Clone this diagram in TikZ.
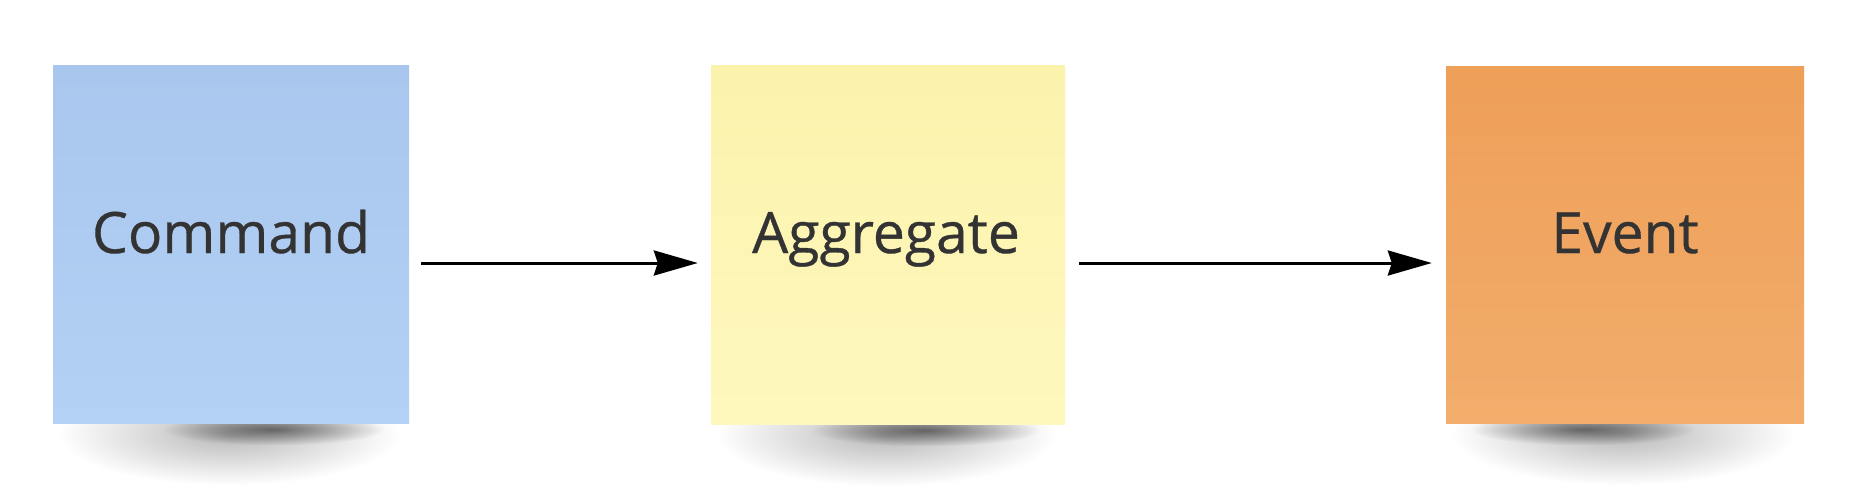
\documentclass[tikz,border=0pt]{standalone}
\usepackage{fontspec}
\setmainfont{Open Sans}
\newfontfamily\lblfont{Open Sans}[FakeBold=0.6]
\usetikzlibrary{arrows.meta,fadings}
\pgfdeclarelayer{background}
\pgfdeclarelayer{canvas}
\pgfsetlayers{canvas,background,main}
\definecolor{blueTop}{HTML}{A9C7EE}
\definecolor{blueBot}{HTML}{B3D1F4}
\definecolor{yelTop}{HTML}{FBF2AC}
\definecolor{yelBot}{HTML}{FEF8BD}
\definecolor{orTop}{HTML}{EE9F58}
\definecolor{orBot}{HTML}{F2AD6C}
\definecolor{txt}{HTML}{333333}
\tikzfading[name=shfade, inner color=transparent!0, outer color=transparent!100]
\tikzset{
  sticky/.style={rectangle, inner sep=0pt, draw=none},
  lbl/.style={anchor=base, inner sep=0pt, text=txt, font=\lblfont\fontsize{57pt}{60pt}\selectfont},
  arr/.style={line width=3pt, -{Stealth[length=44pt,width=25pt,inset=4pt]}}
}
\begin{document}
\begin{tikzpicture}[x=1pt,y=-1pt]
\begin{pgfonlayer}{canvas}
\fill[white] (0,0) rectangle (1854,490);
\end{pgfonlayer}
\useasboundingbox (0,0) rectangle (1854,490);
% sticky notes
\node[sticky, minimum width=356pt, minimum height=358pt, top color=blueTop, bottom color=blueBot] (cmd) at (231,244) {};
\node[sticky, minimum width=354pt, minimum height=359pt, top color=yelTop, bottom color=yelBot] (agg) at (888,244.5) {};
\node[sticky, minimum width=358pt, minimum height=357pt, top color=orTop, bottom color=orBot] (evt) at (1625,244.5) {};
% labels
\node[lbl] (cmdT) at (231,253) {Command};
\node[lbl] (aggT) at (886,253) {Aggregate};
\node[lbl] (evtT) at (1625,253) {Event};
% shadows
\begin{pgfonlayer}{background}
\foreach \n/\a/\b in {cmd/110/25, agg/100/25, evt/25/110}{
  \fill[black, path fading=shfade, opacity=.28]
    ([xshift=6pt,yshift=40pt]\n.south west) rectangle ([xshift=-10pt,yshift=-62pt]\n.south east);
  \fill[black, path fading=shfade, opacity=.5]
    ([xshift=\a pt,yshift=10pt]\n.south west) rectangle ([xshift=-\b pt,yshift=-22pt]\n.south east);
}
\end{pgfonlayer}
% connectors
\draw[arr] ([xshift=12pt,yshift=-19pt]cmd.east) -- ([xshift=-13pt,yshift=-18.5pt]agg.west);
\draw[arr] ([xshift=14pt,yshift=-18.5pt]agg.east) -- ([xshift=-14pt,yshift=-18.5pt]evt.west);
\end{tikzpicture}
\end{document}
